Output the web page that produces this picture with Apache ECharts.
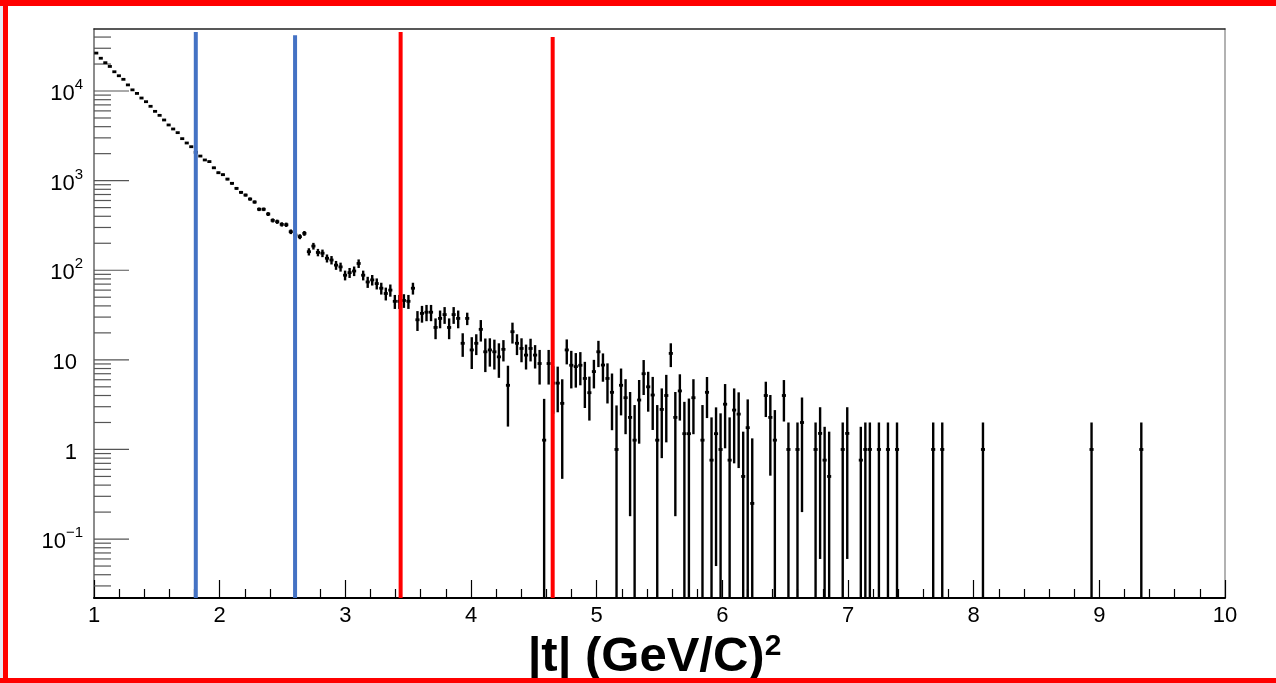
<!DOCTYPE html>
<html><head><meta charset="utf-8">
<script src="https://cdn.jsdelivr.net/npm/echarts@6/dist/echarts.min.js"></script>
<style>html,body{margin:0;padding:0;background:#fff;}#chart{width:1276px;height:683px;}</style>
</head><body>
<div id="chart"></div>
<script>
// Histogram binning of |t|
const binLow = 1.0;
const binWidth = 0.036;
// Bin contents (250 bins from 1.0 to 10.0), 0 = empty bin
const binValues = [
26500,23200,20700,18800,16400,14800,13500,11700,10300,9400,
8350,7600,6750,5930,5350,4750,4180,3770,3430,2940,
2630,2390,2070,1880,1700,1630,1390,1225,1165,1040,
933,820,740,690,623,577,479,479,424,360,
348,325,322,269,247,237,258,161,186,158,
155,136,130,114,109,88,94,98,119,88,
74,78,71,63,55,60,45,45,46,45,
63,28,33,34,34,23,29,32,23,32,
29,15.3,29,12.9,15.3,21.9,12.3,12.9,12.3,10.8,
13.1,5.2,20.6,15.3,13.4,11.3,13.4,11.3,9.1,1.27,
9.1,5.5,5.5,3.27,12.9,8.7,8.4,8.7,6.2,4.3,
7.4,12.3,8.75,6.2,4.34,1.0,5.2,3.78,2.28,1.27,
3.56,7.0,5.0,4.05,1.27,2.8,4.0,11.8,2.28,4.5,
1.5,1.5,3.78,0,1.27,4.34,0.76,1.5,1.0,3.2,
0.76,2.75,2.48,0.5,1.75,0.25,0,0,4.0,2.28,
1.27,0,4.0,1,0,1,2.0,0,0,1,
1.51,0.76,0.5,0,0,1,1.51,0,0,0.76,
1,1,0,1,0,1,0,1,0,0,
0,0,0,0,0,1,0,1,0,0,
0,0,0,0,0,0,1,0,0,0,
0,0,0,0,0,0,0,0,0,0,
0,0,0,0,0,0,0,0,0,0,
1,0,0,0,0,0,0,0,0,0,
0,1,0,0,0,0,0,0,0,0,
0,0,0,0,0,0,0,0,0,0
];
// Bin errors (symmetric)
const binErrors = [
165,155,145,138,128,122,116,108,102,97,
91,87,82,77,73,69,65,61,59,54,
51,49,46,43,41,40,37,35,34,32,
31,29,27,26,25,24,22,22,21,19,
19,18,18,16,16,15,16,15,16,15,
15,14,14,13,12.5,11,12,12,13,11,
10.5,10.5,10,9.5,9,9.3,8,8,8,8,
9.5,7,7,7,7,6,6.5,6.8,6,6.8,
6.5,4.5,4.6,5,4,5.9,5,4.5,4.5,4.5,
3.5,3.4,5.4,4,4,3.5,3.8,3.3,3.8,2.4,
3.8,3,2.9,2.8,4,3.9,3.5,3.5,3.3,2.2,
2.6,4,3.05,2.94,2.7,2.1,2.8,2.3,2.1,1.86,
2.4,2.95,2.36,2.4,1.86,2.0,2.8,3.5,2.1,2.4,
1.9,2.2,2.3,0,1.86,2.1,1.52,1.45,1.53,2.17,
1.52,2.05,1.86,1.08,1.87,1.08,0,0,1.7,1.77,
1.48,0,1.95,1,0,1,1.8,0,0,1,
1.45,1.03,1.08,0,0,1,1.45,0,0,1.03,
1,1,0,1,0,1,0,1,0,0,
0,0,0,0,0,1,0,1,0,0,
0,0,0,0,0,0,1,0,0,0,
0,0,0,0,0,0,0,0,0,0,
0,0,0,0,0,0,0,0,0,0,
1,0,0,0,0,0,0,0,0,0,
0,1,0,0,0,0,0,0,0,0,
0,0,0,0,0,0,0,0,0,0
];
const xTickLabels = ['1','2','3','4','5','6','7','8','9','10'];
const yMajorTicks = [0.1, 1, 10, 100, 1000, 10000];
const yMinorTicks = [0.03,0.04,0.05,0.06,0.07,0.08,0.09,
  0.2,0.3,0.4,0.5,0.6,0.7,0.8,0.9,
  2,3,4,5,6,7,8,9,
  20,30,40,50,60,70,80,90,
  200,300,400,500,600,700,800,900,
  2000,3000,4000,5000,6000,7000,8000,9000,
  20000,30000,40000];
const blueCuts = [[1.81, 45500], [2.60, 42000]];
const redCuts = [[3.44, 45500], [4.65, 40000]];
const yMin = 0.022, yMax = 49200;
const xMin = 1, xMax = 10;

const histData = [];
for (let k = 0; k < binValues.length; k++) {
  if (binValues[k] > 0) histData.push([binLow + (k + 0.5) * binWidth, binValues[k], binErrors[k]]);
}

const FONT = 'Liberation Sans, Arial, Helvetica, sans-serif';
const chart = echarts.init(document.getElementById('chart'), null, {renderer: 'canvas'});

function tickSeries(values, len) {
  return {
    type: 'custom', xAxisIndex: 0, yAxisIndex: 0, silent: true, clip: false, z: 3,
    data: values.map(v => [xMin, v]),
    renderItem: function (params, api) {
      const p = api.coord([api.value(0), api.value(1)]);
      return {type: 'line', shape: {x1: p[0], y1: p[1], x2: p[0] + len, y2: p[1]},
        style: {stroke: '#555', lineWidth: 1.2}};
    }
  };
}
function cutSeries(lines, color) {
  return {
    type: 'custom', silent: true, clip: true, z: 10,
    data: lines,
    renderItem: function (params, api) {
      const top = api.coord([api.value(0), api.value(1)]);
      const bot = api.coord([api.value(0), yMin]);
      return {type: 'line', shape: {x1: top[0], y1: top[1], x2: bot[0], y2: bot[1]},
        style: {stroke: color, lineWidth: 4}};
    }
  };
}

const option = {
  animation: false,
  backgroundColor: '#ffffff',
  grid: {left: 94, right: 51, top: 29, bottom: 85, containLabel: false, outerBoundsMode: 'none'},
  xAxis: [{
    type: 'value', min: xMin, max: xMax, interval: 1,
    axisLine: {show: true, lineStyle: {color: '#000', width: 2}},
    axisTick: {show: true, inside: true, length: 18, lineStyle: {color: '#000', width: 1.2}},
    minorTick: {show: true, splitNumber: 5, length: 9, lineStyle: {color: '#000', width: 1.2}},
    splitLine: {show: false},
    axisLabel: {color: '#000', fontFamily: FONT, fontSize: 22, margin: 7,
      formatter: v => xTickLabels[Math.round(v) - 1]},
    name: '|t| (GeV/C){sup|2}',
    nameLocation: 'middle', nameGap: 25,
    nameTextStyle: {color: '#000', fontFamily: FONT, fontWeight: 'bold', fontSize: 49,
      padding: [0, 10, 0, 0],
      rich: {sup: {fontFamily: FONT, fontWeight: 'bold', fontSize: 30, padding: [0, 0, 22, 0]}}}
  }, {
    type: 'value', position: 'top', min: xMin, max: xMax,
    axisLine: {show: true, onZero: false, lineStyle: {color: '#222', width: 1.5}},
    axisTick: {show: false}, axisLabel: {show: false}, splitLine: {show: false}
  }],
  yAxis: [{
    type: 'log', logBase: 10, min: yMin, max: yMax,
    axisLine: {show: true, lineStyle: {color: '#666', width: 1.5}},
    axisTick: {show: false},
    splitLine: {show: false},
    axisLabel: {
      color: '#000', fontFamily: FONT, fontSize: 22, margin: 11,
      showMinLabel: false, showMaxLabel: false,
      formatter: function (v) {
        const e = Math.round(Math.log10(v));
        if (Math.abs(Math.log10(v) - e) > 1e-6) return '';
        if (e === 0) return '{pl|1}';
        if (e === 1) return '{pl|10}';
        return '{b|10}{sup|' + (e < 0 ? '\u2212' + (-e) : e) + '}';
      },
      rich: {
        pl: {fontFamily: FONT, fontSize: 22, padding: [6, 6, 0, 0]},
        b: {fontFamily: FONT, fontSize: 22, padding: [6, 0, 0, 0]},
        sup: {fontFamily: FONT, fontSize: 15, padding: [0, 0, 12, 0]}
      }
    }
  }, {
    type: 'log', position: 'right', logBase: 10, min: yMin, max: yMax,
    axisLine: {show: true, onZero: false, lineStyle: {color: '#999', width: 1.5}},
    axisTick: {show: false}, axisLabel: {show: false}, splitLine: {show: false}
  }],
  graphic: [
    {type: 'rect', shape: {x: 0, y: 0, width: 3, height: 683}, style: {fill: '#e6e8f4'}, z: 100},
    {type: 'rect', shape: {x: 3, y: 0, width: 5, height: 683}, style: {fill: '#ff0000'}, z: 100},
    {type: 'rect', shape: {x: 0, y: 0, width: 1276, height: 6}, style: {fill: '#ff0000'}, z: 100},
    {type: 'rect', shape: {x: 0, y: 678, width: 1276, height: 5}, style: {fill: '#ff0000'}, z: 100}
  ],
  series: [
    tickSeries(yMajorTicks, 35),
    tickSeries(yMinorTicks, 17),
    {
      type: 'custom', silent: true, clip: true, z: 5,
      data: histData,
      renderItem: function (params, api) {
        const x = api.value(0), v = api.value(1), e = api.value(2);
        const c = api.coord([x, v]);
        const l = api.coord([x - binWidth * 0.45, v])[0];
        const r = api.coord([x + binWidth * 0.45, v])[0];
        const yTop = api.coord([x, v + e])[1];
        const lo = v - e;
        const yBot = lo > yMin ? api.coord([x, lo])[1] : api.coord([x, yMin])[1];
        return {type: 'group', children: [
          {type: 'line', shape: {x1: c[0], y1: yTop, x2: c[0], y2: yBot}, style: {stroke: '#000', lineWidth: 2.4}},
          {type: 'line', shape: {x1: l, y1: c[1], x2: r, y2: c[1]}, style: {stroke: '#000', lineWidth: 2.8}}
        ]};
      }
    },
    cutSeries(blueCuts, '#4472C4'),
    cutSeries(redCuts, '#ff0000')
  ]
};
chart.setOption(option);
</script>
</body></html>
